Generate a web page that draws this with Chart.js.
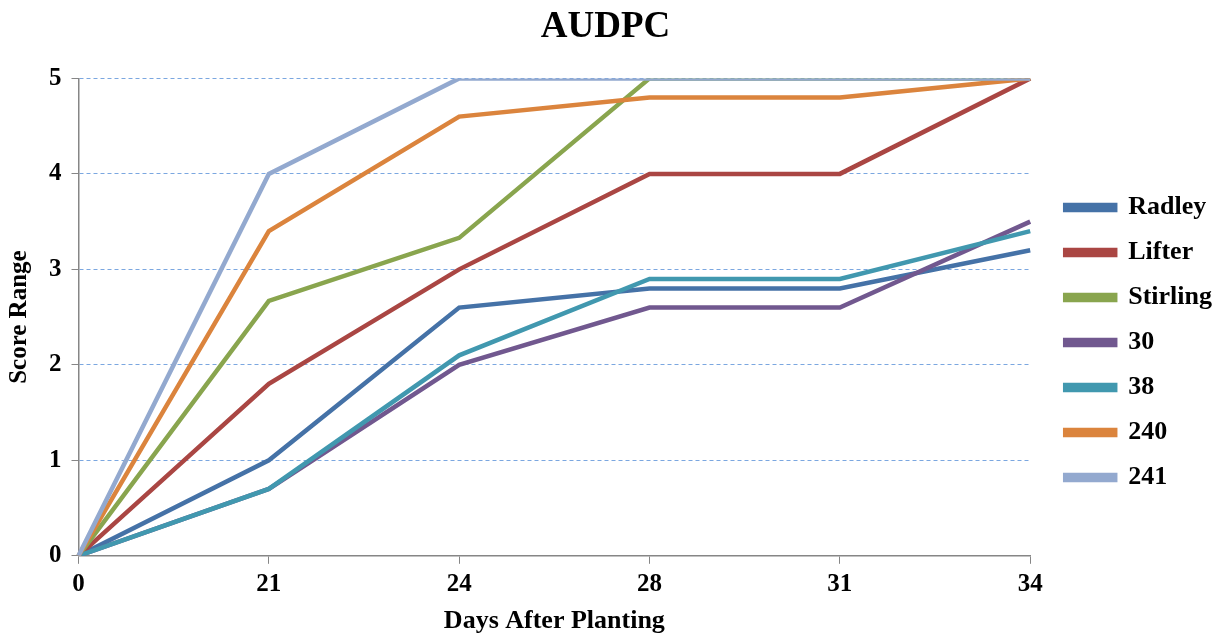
<!DOCTYPE html>
<html>
<head>
<meta charset="utf-8">
<title>AUDPC</title>
<script src="https://cdn.jsdelivr.net/npm/chart.js@4"></script>
<style>
  html, body { margin: 0; padding: 0; background: #fff; }
</style>
</head>
<body>
<canvas id="audpcChart" width="1217" height="637"></canvas>
<script>
const days = ["0", "21", "24", "28", "31", "34"];

const radley = [0, 1, 2.6, 2.8, 2.8, 3.2];
const lifter = [0, 1.8, 3, 4, 4, 5];
const stirling = [0, 2.67, 3.33, 5, 5, 5];
const line30 = [0, 0.7, 2, 2.6, 2.6, 3.5];
const line38 = [0, 0.7, 2.1, 2.9, 2.9, 3.4];
const line240 = [0, 3.4, 4.6, 4.8, 4.8, 5];
const line241 = [0, 4, 5, 5, 5, 5];

const seriesNames = ["Radley", "Lifter", "Stirling", "30", "38", "240", "241"];
const seriesData = [radley, lifter, stirling, line30, line38, line240, line241];
const seriesColors = ["#4572A7", "#AA4643", "#89A54E", "#71588F", "#4198AF", "#DB843D", "#93A9CF"];

const serif = "'Liberation Serif', 'Times New Roman', serif";

const datasets = seriesNames.map((name, i) => ({
  label: name,
  data: seriesData[i],
  borderColor: seriesColors[i],
  backgroundColor: seriesColors[i],
  borderWidth: 4.5,
  pointRadius: 0,
  fill: false,
  tension: 0,
  // later series sit on top, like the original
  order: seriesNames.length - i,
}));

// the legend sits a little right of / below where chart.js puts it
const legendNudge = {
  id: "legendNudge",
  afterLayout(chart) {
    const lg = chart.legend;
    lg.left += 16;
    lg.right += 16;
    lg.top += 24;
    lg.bottom += 24;
  },
};

new Chart(document.getElementById("audpcChart"), {
  type: "line",
  data: { labels: days, datasets: datasets },
  plugins: [legendNudge],
  options: {
    responsive: false,
    animation: false,
    layout: { padding: { left: 5, right: 11, top: 0, bottom: 0 } },
    plugins: {
      title: {
        display: true,
        text: "AUDPC",
        color: "#000",
        font: { family: serif, size: 37, weight: "bold" },
        padding: { top: 5, bottom: 29 },
      },
      legend: {
        position: "right",
        align: "center",
        labels: {
          color: "#000",
          font: { family: serif, size: 26, weight: "bold" },
          boxWidth: 50,
          boxHeight: 5,
          padding: 19,
          sort: (a, b) => a.datasetIndex - b.datasetIndex,
        },
      },
      tooltip: { enabled: false },
    },
    scales: {
      x: {
        offset: false,
        title: {
          display: true,
          text: "Days After Planting",
          color: "#000",
          font: { family: serif, size: 26, weight: "bold" },
          padding: { top: 0, bottom: 0 },
        },
        ticks: {
          color: "#000",
          font: { family: serif, size: 25, weight: "bold" },
          padding: 6,
          maxRotation: 0,
        },
        grid: {
          drawOnChartArea: false,
          tickLength: 8,
          tickColor: "#868686",
          color: "#868686",
        },
        border: { color: "#868686", width: 1.5 },
      },
      y: {
        min: 0,
        max: 5,
        title: {
          display: true,
          text: "Score Range",
          color: "#000",
          font: { family: serif, size: 25, weight: "bold" },
          padding: { top: 0, bottom: 4 },
        },
        ticks: {
          stepSize: 1,
          color: "#000",
          font: { family: serif, size: 25, weight: "bold" },
          padding: 10,
        },
        grid: {
          color: "#7BA7E0",
          lineWidth: 1,
          tickLength: 7,
          tickColor: "#868686",
          tickBorderDash: [],
        },
        border: { color: "#868686", width: 1.5, dash: [4, 3] },
      },
    },
  },
});
</script>
</body>
</html>
